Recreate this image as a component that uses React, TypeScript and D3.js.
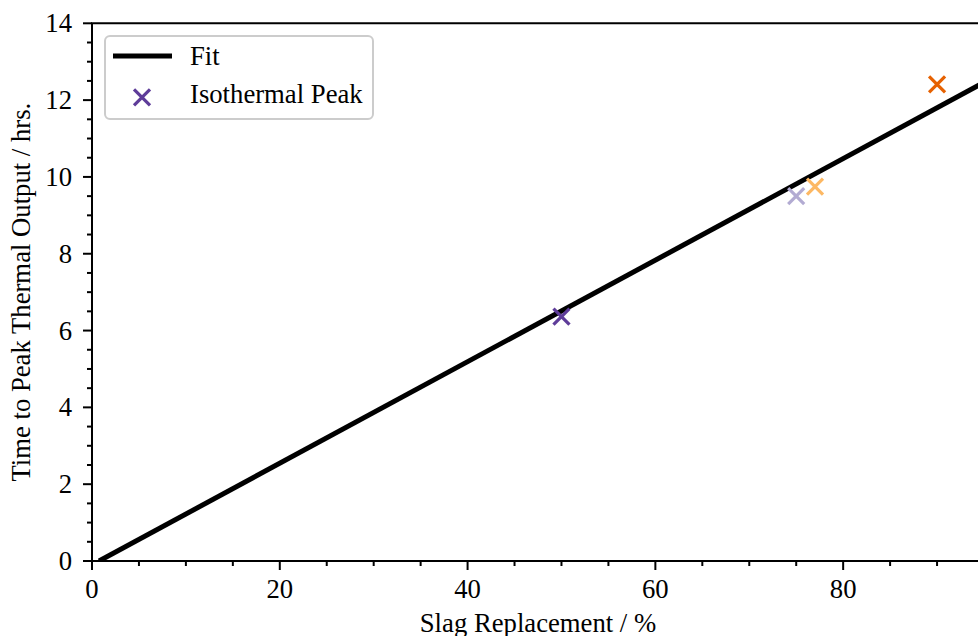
import React from "react";
import * as d3 from "d3";

// Data
const slagPct = [50, 75, 77, 90];
const peakHrs = [6.36, 9.5, 9.75, 12.41];
const pointColors = ["#5e3c99", "#b2abd2", "#fdb863", "#e66101"];
const fitX = [0.75, 95];
const fitY = [0, 12.46];
const xMajor = [0, 20, 40, 60, 80];
const yMajor = [0, 2, 4, 6, 8, 10, 12, 14];
const legendLabels = ["Fit", "Isothermal Peak"];
const xLabel = "Slag Replacement / %";
const yLabel = "Time to Peak Thermal Output / hrs.";

const W = 978;
const H = 636;
const left = 92;
const right = 984;
const top = 23.3;
const bottom = 561;
const FONT = "'Liberation Serif', 'Times New Roman', serif";
const FS = 26.7;

export default function App() {
  const x = d3.scaleLinear().domain([0, 95]).range([left, right]);
  const y = d3.scaleLinear().domain([0, 14]).range([bottom, top]);
  const xMinor = d3.range(0, 96, 5).filter((v) => v % 20 !== 0);
  const yMinor = d3.range(0, 14.01, 0.5).filter((v) => v % 2 !== 0);
  const line = d3
    .line<number>()
    .x((d, i) => x(fitX[i]))
    .y((d, i) => y(fitY[i]));
  const fitPath = line(fitX) || "";
  const cross = (cx: number, cy: number, s: number, color: string, key: string) => (
    <g key={key} stroke={color} strokeWidth={3.2} strokeLinecap="butt">
      <line x1={cx - s} y1={cy - s} x2={cx + s} y2={cy + s} />
      <line x1={cx - s} y1={cy + s} x2={cx + s} y2={cy - s} />
    </g>
  );
  return (
    <svg
      width={W}
      height={H}
      style={{ position: "absolute", left: 0, top: 0, background: "#fff" }}
      fontFamily={FONT}
    >
      <defs>
        <clipPath id="plotclip">
          <rect x={left} y={top} width={right - left} height={bottom - top} />
        </clipPath>
      </defs>
      <rect x={0} y={0} width={W} height={H} fill="#fff" />
      <g clipPath="url(#plotclip)">
        <path d={fitPath} stroke="#000" strokeWidth={5} fill="none" />
        {slagPct.map((v, i) => cross(x(v), y(peakHrs[i]), 8, pointColors[i], "p" + i))}
      </g>
      {/* spines */}
      <g stroke="#000" strokeWidth={2} fill="none">
        <line x1={left} y1={top} x2={left} y2={bottom + 1} />
        <line x1={left - 1} y1={bottom} x2={right} y2={bottom} />
        <line x1={left - 1} y1={top} x2={right} y2={top} />
        <line x1={right} y1={top} x2={right} y2={bottom} />
      </g>
      {/* ticks */}
      <g stroke="#000" strokeWidth={2}>
        {xMajor.map((v) => (
          <line key={"xM" + v} x1={x(v)} x2={x(v)} y1={bottom} y2={bottom + 9} />
        ))}
        {xMinor.map((v) => (
          <line key={"xm" + v} x1={x(v)} x2={x(v)} y1={bottom} y2={bottom + 5} />
        ))}
        {yMajor.map((v) => (
          <line key={"yM" + v} x1={left - 9} x2={left} y1={y(v)} y2={y(v)} />
        ))}
        {yMinor.map((v) => (
          <line key={"ym" + v} x1={left - 5} x2={left} y1={y(v)} y2={y(v)} />
        ))}
      </g>
      <g fontSize={FS} fill="#000">
        {xMajor.map((v) => (
          <text key={"xl" + v} x={x(v)} y={bottom + 37} textAnchor="middle">
            {v}
          </text>
        ))}
        {yMajor.map((v) => (
          <text key={"yl" + v} x={left - 20} y={y(v) + 9} textAnchor="end">
            {v}
          </text>
        ))}
        <text x={(left + right) / 2} y={632} textAnchor="middle">
          {xLabel}
        </text>
        <text
          transform={`translate(30, ${(top + bottom) / 2}) rotate(-90)`}
          textAnchor="middle"
        >
          {yLabel}
        </text>
      </g>
      {/* legend */}
      <g>
        <rect
          x={105}
          y={36}
          width={268}
          height={83}
          rx={5}
          fill="#fff"
          fillOpacity={0.8}
          stroke="#cccccc"
          strokeWidth={2}
        />
        <line x1={113} x2={172} y1={56} y2={56} stroke="#000" strokeWidth={5} />
        {cross(142, 97.3, 8, pointColors[0], "leg")}
        <text x={190} y={65} fontSize={FS}>
          {legendLabels[0]}
        </text>
        <text x={190} y={103} fontSize={FS}>
          {legendLabels[1]}
        </text>
      </g>
    </svg>
  );
}
